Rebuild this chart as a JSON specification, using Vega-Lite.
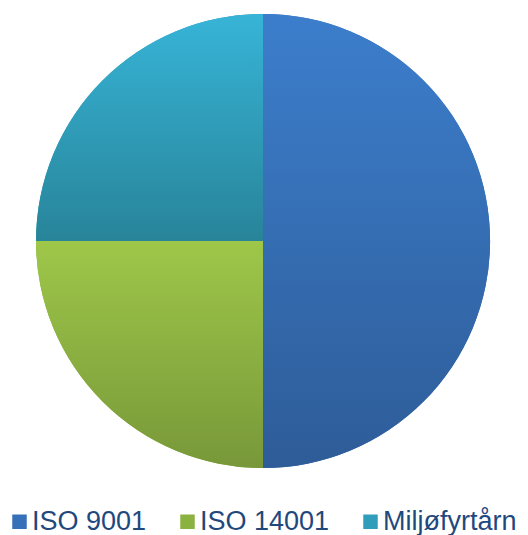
{
  "$schema": "https://vega.github.io/schema/vega-lite/v6.json",
  "width": 526,
  "height": 482,
  "padding": 0,
  "autosize": {"type": "pad"},
  "background": "white",
  "data": {
    "values": [
      {"category": "ISO 9001", "value": 50},
      {"category": "ISO 14001", "value": 25},
      {"category": "Miljøfyrtårn", "value": 25}
    ]
  },
  "encoding": {
    "theta": {"field": "value", "type": "quantitative", "stack": true},
    "order": {"field": "value", "sort": "descending"},
    "detail": {"field": "category"}
  },
  "layer": [
    {
      "mark": {"type": "arc", "outerRadius": 227, "stroke": null},
      "encoding": {
        "color": {
          "field": "category",
          "type": "nominal",
          "sort": ["ISO 9001", "ISO 14001", "Miljøfyrtårn"],
          "scale": {
            "domain": ["ISO 9001", "ISO 14001", "Miljøfyrtårn"],
            "range": ["#3570B8", "#8BB140", "#309EBA"]
          },
          "legend": {
            "title": null,
            "orient": "none",
            "direction": "horizontal",
            "columns": 3,
            "legendX": 6,
            "legendY": 508,
            "padding": 0,
            "symbolType": "square",
            "symbolSize": 210,
            "symbolStrokeWidth": 0,
            "labelFont": "Liberation Sans",
            "labelFontSize": 27,
            "labelColor": "#1F497D",
            "labelOffset": -1,
            "columnPadding": 27,
            "labelLimit": 300
          }
        }
      }
    },
    {
      "mark": {"type": "arc", "outerRadius": 227, "stroke": null,
        "fill": {"gradient": "linear", "x1": 0, "y1": 0, "x2": 0, "y2": 1, "stops": [{"offset": 0, "color": "#3C7ECC"}, {"offset": 1, "color": "#2E5C98"}]}},
      "encoding": {
        "opacity": {"condition": {"test": "datum.category === 'ISO 9001'", "value": 1}, "value": 0}
      }
    },
    {
      "mark": {"type": "arc", "outerRadius": 227, "stroke": null,
        "fill": {"gradient": "linear", "x1": 0, "y1": 0, "x2": 0, "y2": 1, "stops": [{"offset": 0, "color": "#9EC749"}, {"offset": 1, "color": "#789839"}]}},
      "encoding": {
        "opacity": {"condition": {"test": "datum.category === 'ISO 14001'", "value": 1}, "value": 0}
      }
    },
    {
      "mark": {"type": "arc", "outerRadius": 227, "stroke": null,
        "fill": {"gradient": "linear", "x1": 0, "y1": 0, "x2": 0, "y2": 1, "stops": [{"offset": 0, "color": "#37B4D7"}, {"offset": 1, "color": "#288499"}]}},
      "encoding": {
        "opacity": {"condition": {"test": "datum.category === 'Miljøfyrtårn'", "value": 1}, "value": 0}
      }
    }
  ],
  "config": {"view": {"stroke": null}}
}
